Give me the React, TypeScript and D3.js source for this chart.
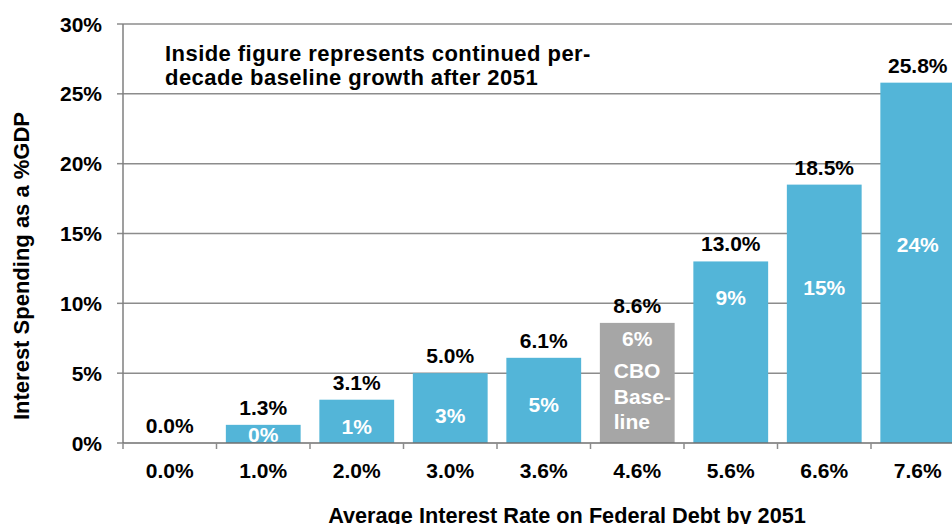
import React, { useRef, useEffect } from 'react';
import * as d3 from 'd3';

// Average interest rate on federal debt by 2051 (categories)
const rates = ['0.0%', '1.0%', '2.0%', '3.0%', '3.6%', '4.6%', '5.6%', '6.6%', '7.6%'];
// Interest spending as % of GDP
const spending = [0.0, 1.3, 3.1, 5.0, 6.1, 8.6, 13.0, 18.5, 25.8];
// Inside figure: continued per-decade baseline growth after 2051
const growthLabels = ['', '0%', '1%', '3%', '5%', '6%', '9%', '15%', '24%'];
// level (in %GDP units) where each inside label sits
const growthLabelLevel = [0, 0.09, 0.64, 1.45, 2.22, 6.95, 9.88, 10.6, 13.7];
const baselineIndex = 5;
const yTicks = [0, 5, 10, 15, 20, 25, 30];

const W = 952;
const H = 524;

const App = () => {
    const ref = useRef(null);

    useEffect(() => {
        if (!ref.current) return;
        const svg = d3.select(ref.current);
        svg.selectAll('*').remove();

        const font = 'Liberation Sans, Arial, Helvetica, sans-serif';
        const left = 123, top = 24, bottom = 443, right = 964.5;

        const x = d3.scaleBand().domain(rates).range([left, right]).paddingInner(0.2).paddingOuter(0.1);
        const y = d3.scaleLinear().domain([0, 30]).range([bottom, top]);
        const pad = (x.step() - x.bandwidth()) / 2;

        const g = svg.append('g').style('font-family', font).style('font-weight', 'bold');

        // gridlines
        g.selectAll('.grid')
            .data(yTicks.slice(1))
            .join('line')
            .attr('x1', left).attr('x2', W)
            .attr('y1', d => y(d)).attr('y2', d => y(d))
            .attr('stroke', '#8c8c8c')
            .attr('stroke-width', 1.5);

        // y ticks + labels
        g.selectAll('.ytick')
            .data(yTicks)
            .join('line')
            .attr('x1', left - 6).attr('x2', left)
            .attr('y1', d => y(d)).attr('y2', d => y(d))
            .attr('stroke', '#8c8c8c')
            .attr('stroke-width', 1.5);

        g.selectAll('.ylab')
            .data(yTicks)
            .join('text')
            .attr('x', 102)
            .attr('y', d => y(d) + 7.5)
            .attr('text-anchor', 'end')
            .style('font-size', '21px')
            .attr('fill', '#000')
            .text(d => d + '%');

        // bars
        g.selectAll('.bar')
            .data(spending)
            .join('rect')
            .attr('x', (d, i) => x(rates[i]))
            .attr('width', x.bandwidth())
            .attr('y', d => y(d))
            .attr('height', d => bottom - y(d))
            .attr('fill', (d, i) => i === baselineIndex ? '#a6a6a6' : '#53b5d8');

        // axes lines
        g.append('line')
            .attr('x1', left).attr('x2', left).attr('y1', top).attr('y2', bottom)
            .attr('stroke', '#7f7f7f').attr('stroke-width', 1.5);
        g.append('line')
            .attr('x1', left).attr('x2', W).attr('y1', bottom).attr('y2', bottom)
            .attr('stroke', '#6f6f6f').attr('stroke-width', 1.5);

        // x ticks at band boundaries
        const bounds = rates.map(r => x(r) - pad).concat([right]);
        g.selectAll('.xtick')
            .data(bounds)
            .join('line')
            .attr('x1', d => d).attr('x2', d => d)
            .attr('y1', bottom).attr('y2', bottom + 6)
            .attr('stroke', '#8c8c8c')
            .attr('stroke-width', 1.5);

        g.selectAll('.xlab')
            .data(rates)
            .join('text')
            .attr('x', d => x(d) + x.bandwidth() / 2)
            .attr('y', 478)
            .attr('text-anchor', 'middle')
            .style('font-size', '21px')
            .text(d => d);

        // value labels
        g.selectAll('.val')
            .data(spending)
            .join('text')
            .attr('x', (d, i) => x(rates[i]) + x.bandwidth() / 2)
            .attr('y', d => y(d) - 10)
            .attr('text-anchor', 'middle')
            .style('font-size', '21px')
            .text(d => d.toFixed(1) + '%');

        // inside labels
        g.selectAll('.inner')
            .data(growthLabels)
            .join('text')
            .attr('x', (d, i) => x(rates[i]) + x.bandwidth() / 2)
            .attr('y', (d, i) => y(growthLabelLevel[i]))
            .attr('text-anchor', 'middle')
            .attr('fill', '#fff')
            .style('font-size', '21px')
            .text(d => d);

        // CBO baseline note
        const cx = x(rates[baselineIndex]) + x.bandwidth() / 2 - 23.5;
        const cbo = g.append('text')
            .attr('x', cx)
            .attr('y', y(growthLabelLevel[baselineIndex]))
            .attr('fill', '#fff')
            .style('font-size', '21px');
        [['CBO', 32], ['Base-', 26.5], ['line', 24.5]].forEach(([t, dy]) => {
            cbo.append('tspan').attr('x', cx).attr('dy', dy).text(t);
        });

        // note in plot
        const note = g.append('text')
            .attr('x', 165).attr('y', 61)
            .style('font-size', '22px')
            .style('letter-spacing', '0.45px');
        note.append('tspan').attr('x', 165).text('Inside figure represents continued per-');
        note.append('tspan').attr('x', 165).attr('dy', 23.5).text('decade baseline growth after 2051');

        // axis titles
        g.append('text')
            .attr('transform', 'translate(29,266) rotate(-90)')
            .attr('text-anchor', 'middle')
            .style('font-size', '22px')
            .text('Interest Spending as a %GDP');

        g.append('text')
            .attr('x', 567)
            .attr('y', 523)
            .attr('text-anchor', 'middle')
            .style('font-size', '21.7px')
            .text('Average Interest Rate on Federal Debt by 2051');
    }, []);

    return (
        <svg
            ref={ref}
            width={W}
            height={H}
            style={{ position: 'absolute', left: 0, top: 0, background: '#fff', display: 'block' }}
        />
    );
};

export default App;
